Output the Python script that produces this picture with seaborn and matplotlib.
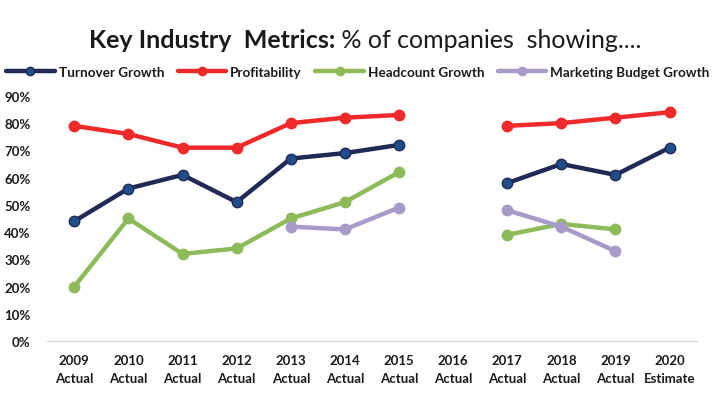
import numpy as np
import pandas as pd
import matplotlib
matplotlib.use("Agg")
import matplotlib.pyplot as plt
import seaborn as sns
from matplotlib.lines import Line2D

years = ["2009", "2010", "2011", "2012", "2013", "2014", "2015", "2016", "2017", "2018", "2019", "2020"]
kinds = ["Actual"] * 11 + ["Estimate"]
nan = np.nan
turnover = [44, 56, 61, 51, 67, 69, 72, nan, 58, 65, 61, 71]
profitability = [79, 76, 71, 71, 80, 82, 83, nan, 79, 80, 82, 84]
headcount = [20, 45, 32, 34, 45, 51, 62, nan, 39, 43, 41, nan]
marketing = [nan, nan, nan, nan, 42, 41, 49, nan, 48, 42, 33, nan]

series_names = ["Turnover Growth", "Profitability", "Headcount Growth", "Marketing Budget Growth"]
series_values = [turnover, profitability, headcount, marketing]
line_colors = ["#1F2A56", "#EE2A2A", "#8DBB5A", "#A89BC9"]
marker_colors = ["#1F4E8A", "#EE2A2A", "#8DBB5A", "#A89BC9"]

sns.set_theme(style="white")
plt.rcParams['font.family'] = ['Lato', 'DejaVu Sans']

fig = plt.figure(figsize=(7.16, 4.02), dpi=100)
ax = fig.add_axes([0.066, 0.149, 0.907, 0.61])

rows = []
for name, vals in zip(series_names, series_values):
    seg = 0
    prev_nan = True
    for i, v in enumerate(vals):
        if np.isnan(v):
            prev_nan = True
            continue
        if prev_nan:
            seg += 1
            prev_nan = False
        rows.append({"series": name, "pos": i, "value": v, "seg": seg})
df = pd.DataFrame(rows)

for name, lc, mc in zip(series_names, line_colors, marker_colors):
    sub = df[df["series"] == name]
    sns.lineplot(data=sub, x="pos", y="value", units="seg", estimator=None,
                 color=lc, linewidth=3.2, marker="o", markersize=7.5,
                 markerfacecolor=mc, markeredgecolor=lc, markeredgewidth=1.0,
                 ax=ax, legend=False, zorder=3)

ax.set_xlim(-0.5, 11.5)
ax.set_ylim(0, 90)
ax.set_yticks(range(0, 91, 10))
ax.set_yticklabels([f"{t}%" for t in range(0, 91, 10)], fontsize=9.5, fontweight="bold", color="#1a1a1a")
ax.set_xticks(range(12))
ax.set_xticklabels([f"{y}\n{k}" for y, k in zip(years, kinds)], fontsize=9.5, fontweight="bold", color="#1a1a1a", linespacing=1.6)
ax.set_xlabel("")
ax.set_ylabel("")
for s in ["top", "right", "left"]:
    ax.spines[s].set_visible(False)
ax.spines["bottom"].set_color("#D9D9D9")
ax.spines["bottom"].set_linewidth(1.0)
ax.tick_params(axis="both", length=0)
ax.tick_params(axis="x", pad=9)
ax.tick_params(axis="y", pad=12)
ax.grid(False)

fig.text(0.468, 0.9, "Key Industry  Metrics:", ha="right", va="center", fontsize=18, fontweight="bold", color="#1a1a1a")
fig.text(0.468, 0.9, " % of companies  showing....", ha="left", va="center", fontsize=18, color="#1a1a1a")

handles = [Line2D([0], [0], color=lc, lw=3.2, marker="o", markersize=6,
                  markerfacecolor=mc, markeredgecolor=lc) for lc, mc in zip(line_colors, marker_colors)]
leg = fig.legend(handles, series_names, loc="center", bbox_to_anchor=(0.5, 0.818), ncol=4,
                 frameon=False, fontsize=9.7, handlelength=3.6, columnspacing=1.0, handletextpad=0.3,
                 borderaxespad=0, borderpad=0)
for t in leg.get_texts():
    t.set_fontweight("bold")
    t.set_color("#1a1a1a")

fig.savefig("out.png", dpi=100, facecolor="white")
